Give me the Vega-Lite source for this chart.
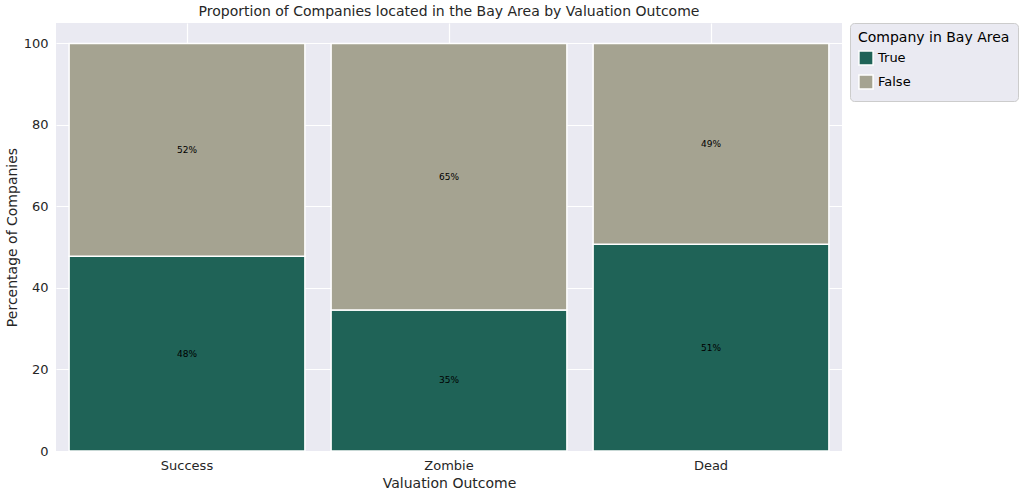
{
"$schema":"https://vega.github.io/schema/vega-lite/v6.json",
"width":1024,"height":495,
"autosize":{"type":"fit","contains":"padding"},
"background":"white",
"config":{"view":{"fill":"#eaeaf2","stroke":null},"font":"DejaVu Sans",
"axis":{"gridColor":"white","gridWidth":1.2,"domain":false,"ticks":false,"labelFontSize":13,"titleFontSize":14,"labelColor":"#262626","titleColor":"#262626","titleFontWeight":"normal"}},
"title":{"text":"Proportion of Companies located in the Bay Area by Valuation Outcome","fontSize":14,"fontWeight":"normal","color":"#262626","offset":4},
"data":{"values":[
{"outcome":"Success","bay":"True","ord":0,"pct":47.8},
{"outcome":"Success","bay":"False","ord":1,"pct":52.2},
{"outcome":"Zombie","bay":"True","ord":0,"pct":34.6},
{"outcome":"Zombie","bay":"False","ord":1,"pct":65.4},
{"outcome":"Dead","bay":"True","ord":0,"pct":50.7},
{"outcome":"Dead","bay":"False","ord":1,"pct":49.3}]},
"transform":[
{"stack":"pct","groupby":["outcome"],"sort":[{"field":"ord"}],"as":["y0","y1"]},
{"calculate":"(datum.y0+datum.y1)/2","as":"mid"},
{"calculate":"format(datum.pct,'.0f')+'%'","as":"lab"}],
"encoding":{"x":{"field":"outcome","type":"nominal","sort":["Success","Zombie","Dead"],"title":"Valuation Outcome",
"scale":{"paddingInner":0.1,"paddingOuter":0.05},"axis":{"labelAngle":0,"grid":true,"labelPadding":8}}},
"layer":[
{"mark":{"type":"bar","stroke":"white","strokeWidth":1.5},
"encoding":{"y":{"field":"y0","type":"quantitative","title":"Percentage of Companies","scale":{"domain":[0,105],"nice":false},"axis":{"values":[0,20,40,60,80,100],"labelPadding":8}},
"y2":{"field":"y1"},
"color":{"field":"bay","type":"nominal","sort":["True","False"],"scale":{"domain":["True","False"],"range":["#1f6357","#a5a391"]},
"legend":{"title":"Company in Bay Area","orient":"right","titleFontSize":14,"titleFontWeight":"normal","labelFontSize":13,"symbolType":"square","symbolSize":200,"fillColor":"#eaeaf2","strokeColor":"#cccccc","padding":8,"cornerRadius":4,"offset":8}}}},
{"mark":{"type":"text","fontSize":9,"color":"black"},
"encoding":{"y":{"field":"mid","type":"quantitative"},"text":{"field":"lab"}}}
]}
